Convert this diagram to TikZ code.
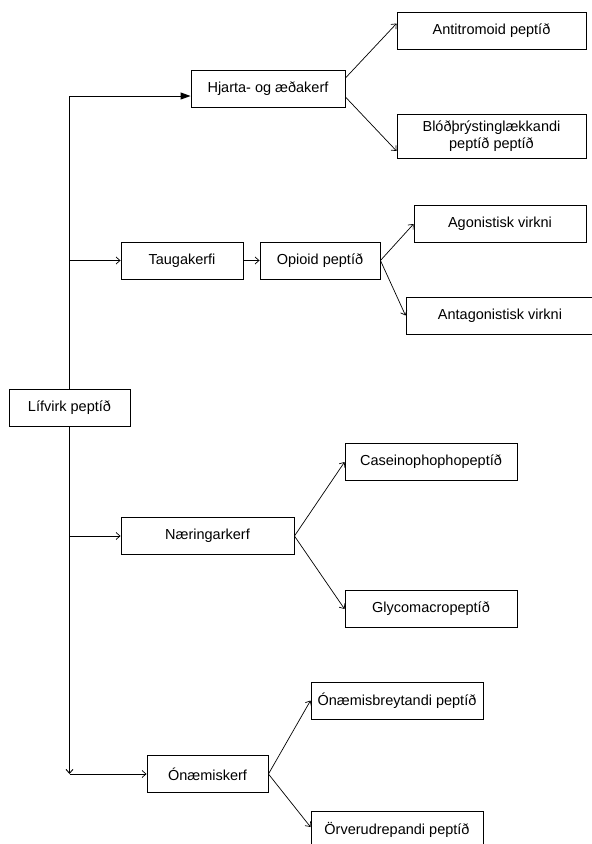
\documentclass[tikz,border=0pt]{standalone}
\usepackage{fontspec}
\setmainfont{Liberation Sans}
\usetikzlibrary{arrows.meta}

\begin{document}
\begin{tikzpicture}[x=1pt,y=-1pt,
  box/.style={draw,line width=0.9pt,rectangle,inner sep=0pt,minimum height=37pt,
    align=center,font=\fontsize{14.5}{17}\selectfont},
  link/.style={line width=0.7pt,-{Straight Barb[length=4pt,width=7pt]}},
  trunk/.style={line width=0.9pt}]
\useasboundingbox (0,0) rectangle (592,844);
\node[box,minimum width=121pt] (lifvirk) at (69.5,407.5) {Lífvirk peptíð};
\node[box,minimum width=154pt] (hjarta) at (268,88.5) {Hjarta- og æðakerf};
\node[box,minimum width=189pt] (antitrom) at (491.5,30.5) {Antitromoid peptíð};
\node[box,minimum width=189pt,minimum height=44pt] (blodthr) at (491.5,136) {Blóðþrýstinglækkandi\\peptíð peptíð};
\node[box,minimum width=122pt] (tauga) at (182,260.5) {Taugakerfi};
\node[box,minimum width=120pt] (opioid) at (320,260.5) {Opioid peptíð};
\node[box,minimum width=172pt] (agon) at (500,224) {Agonistisk virkni};
\node[box,minimum width=188pt] (antagon) at (500,315.5) {Antagonistisk virkni};
\node[box,minimum width=173pt] (naering) at (207.5,536) {Næringarkerf};
\node[box,minimum width=172pt] (casein) at (431,462) {Caseinophophopeptíð};
\node[box,minimum width=172pt] (glyco) at (431,609) {Glycomacropeptíð};
\node[box,minimum width=121pt] (onaemi) at (207.5,774) {Ónæmiskerf};
\node[box,minimum width=172pt] (onbreyt) at (397,700.5) {Ónæmisbreytandi peptíð};
\node[box,minimum width=172pt] (orveru) at (397,829.5) {Örverudrepandi peptíð};

% stofn
\draw[trunk,-{Triangle[length=10pt,width=7pt]}] (lifvirk.north) |- ([yshift=-7.5pt]hjarta.west);
\coordinate (botn) at (lifvirk.south |- onaemi.west);
\draw[trunk,-{Straight Barb[length=4pt,width=7pt]}] (lifvirk.south) -- (botn);
\draw[link] (botn) -- (onaemi.west);
\draw[link] (lifvirk.south |- tauga.west) -- (tauga.west);
\draw[link] (lifvirk.south |- naering.west) -- (naering.west);

% greinar
\draw[link] ([yshift=10.5pt]hjarta.east) -- ([yshift=7pt]antitrom.west);
\draw[link] ([yshift=-8.5pt]hjarta.east) -- ([yshift=-15pt]blodthr.west);
\draw[link] (tauga.east) -- (opioid.west);
\draw[link] (opioid.east) -- (agon.west);
\draw[link] (opioid.east) -- (antagon.west);
\draw[link] (naering.east) -- (casein.west);
\draw[link] (naering.east) -- (glyco.west);
\draw[link] (onaemi.east) -- (onbreyt.west);
\draw[link] (onaemi.east) -- ([yshift=2.5pt]orveru.west);
\end{tikzpicture}
\end{document}
